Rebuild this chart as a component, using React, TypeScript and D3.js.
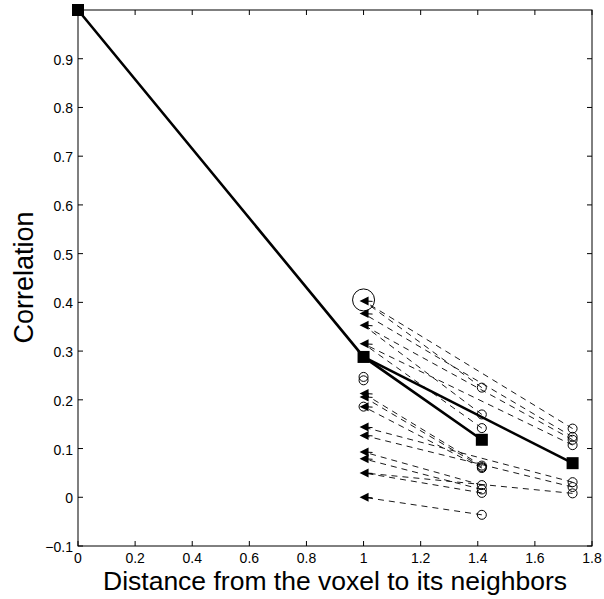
import React, { useEffect, useRef } from "react";
import * as d3 from "d3";

// Mean correlation curve (distance -> correlation)
const meanDist = [0, 1, Math.SQRT2, Math.sqrt(3)];
const meanCorr = [1.0, 0.288, 0.118, 0.07];

// Individual voxels: correlation to face neighbor (distance 1, arrow),
// edge neighbor (sqrt2) and corner neighbor (sqrt3); NaN = not drawn
const faceCorr = [0.403, 0.377, 0.353, 0.315, 0.213, 0.206, 0.186, 0.144, 0.127, 0.093, 0.079, 0.05, 0.0];
const edgeCorr = [0.225, NaN, 0.17, 0.142, 0.065, 0.062, 0.06, NaN, NaN, 0.025, 0.016, 0.009, -0.036];
const cornerCorr = [0.141, 0.124, 0.118, 0.107, NaN, NaN, NaN, 0.031, 0.021, NaN, NaN, 0.008, NaN];

// Extra open circles at distance 1
const faceCircles = [0.247, 0.24, 0.186];
const highlight = 0.405;

const xTicks = [0, 0.2, 0.4, 0.6, 0.8, 1, 1.2, 1.4, 1.6, 1.8];
const yTicks = [-0.1, 0, 0.1, 0.2, 0.3, 0.4, 0.5, 0.6, 0.7, 0.8, 0.9];

export default function App() {
  const ref = useRef<SVGSVGElement>(null);
  useEffect(() => {
    const svg = d3.select(ref.current);
    svg.selectAll("*").remove();
    const L = 78, R = 592, T = 10, B = 546;
    const x = d3.scaleLinear().domain([0, 1.8]).range([L, R]);
    const y = d3.scaleLinear().domain([-0.1, 1.0]).range([B, T]);
    const font = "'Liberation Sans', Arial, sans-serif";

    // Box
    svg.append("rect").attr("x", L).attr("y", T).attr("width", R - L).attr("height", B - T)
      .attr("fill", "white").attr("stroke", "black").attr("stroke-width", 1);

    const tl = 5;
    xTicks.forEach(t => {
      const px = x(t);
      svg.append("line").attr("x1", px).attr("x2", px).attr("y1", B).attr("y2", B - tl).attr("stroke", "black");
      svg.append("line").attr("x1", px).attr("x2", px).attr("y1", T).attr("y2", T + tl).attr("stroke", "black");
      svg.append("text").attr("x", px).attr("y", B + 17).attr("text-anchor", "middle")
        .attr("font-family", font).attr("font-size", 14).text(d3.format("")(t));
    });
    yTicks.forEach(t => {
      const py = y(t);
      svg.append("line").attr("x1", L).attr("x2", L + tl).attr("y1", py).attr("y2", py).attr("stroke", "black");
      svg.append("line").attr("x1", R).attr("x2", R - tl).attr("y1", py).attr("y2", py).attr("stroke", "black");
      const lab = t < 0 ? "\u2212" + d3.format("")(-t) : d3.format("")(+t.toFixed(1));
      svg.append("text").attr("x", L - 5).attr("y", py + 6).attr("text-anchor", "end")
        .attr("font-family", font).attr("font-size", 14).text(lab);
    });

    // Dashed voxel lines
    const dashed = svg.append("g").attr("stroke", "black").attr("stroke-width", 0.9)
      .attr("stroke-dasharray", "6,5").attr("fill", "none");
    faceCorr.forEach((r1, i) => {
      [[Math.SQRT2, edgeCorr[i]], [Math.sqrt(3), cornerCorr[i]]].forEach(([dx, r2]) => {
        if (isNaN(r2)) return;
        dashed.append("line").attr("x1", x(dx)).attr("y1", y(r2)).attr("x2", x(1)).attr("y2", y(r1));
      });
    });

    // Open circles at sqrt2 / sqrt3
    const circ = svg.append("g").attr("stroke", "black").attr("fill", "none").attr("stroke-width", 1);
    faceCorr.forEach((_, i) => {
      if (!isNaN(edgeCorr[i])) circ.append("circle").attr("cx", x(Math.SQRT2)).attr("cy", y(edgeCorr[i])).attr("r", 4.5);
      if (!isNaN(cornerCorr[i])) circ.append("circle").attr("cx", x(Math.sqrt(3))).attr("cy", y(cornerCorr[i])).attr("r", 4.5);
    });
    faceCircles.forEach(r => circ.append("circle").attr("cx", x(1)).attr("cy", y(r)).attr("r", 4.5));
    circ.append("circle").attr("cx", x(1)).attr("cy", y(highlight)).attr("r", 11);

    // Arrowheads at distance 1
    faceCorr.forEach(r1 => {
      const px = x(1), py = y(r1);
      svg.append("path")
        .attr("d", `M${px - 4},${py} L${px + 5},${py - 4.5} L${px + 5},${py + 4.5} Z`)
        .attr("fill", "black");
      svg.append("line").attr("x1", px).attr("x2", px + 9).attr("y1", py).attr("y2", py + 0.5)
        .attr("stroke", "black").attr("stroke-width", 1);
    });

    // Mean curve
    const line = d3.line<[number, number]>().x(d => x(d[0])).y(d => y(d[1]));
    const pts: [number, number][] = meanDist.map((d, i) => [d, meanCorr[i]]);
    svg.append("path").attr("d", line([pts[0], pts[1], pts[2]])).attr("fill", "none")
      .attr("stroke", "black").attr("stroke-width", 2.6);
    svg.append("path").attr("d", line([pts[1], pts[3]])).attr("fill", "none")
      .attr("stroke", "black").attr("stroke-width", 2.6);
    pts.forEach(p => {
      svg.append("rect").attr("x", x(p[0]) - 6).attr("y", y(p[1]) - 6)
        .attr("width", 12).attr("height", 12).attr("fill", "black");
    });

    // Axis labels
    svg.append("text").attr("x", (L + R) / 2).attr("y", 590).attr("text-anchor", "middle")
      .attr("font-family", font).attr("font-size", 26.5).text("Distance from the voxel to its neighbors");
    svg.append("text").attr("transform", `translate(33,277.5) rotate(-90)`)
      .attr("text-anchor", "middle").attr("font-family", font).attr("font-size", 27).text("Correlation");
  }, []);
  return (
    <svg ref={ref} width={604} height={599} style={{ position: "absolute", left: 0, top: 0, background: "white" }} />
  );
}
